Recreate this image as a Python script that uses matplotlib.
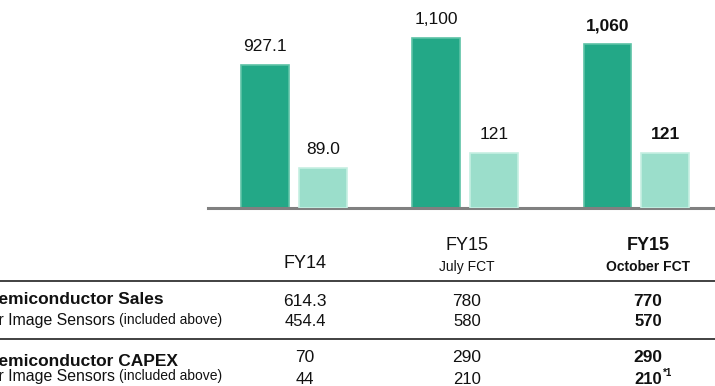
import matplotlib
matplotlib.use("Agg")
import matplotlib.pyplot as plt

plt.rcParams['font.family'] = ['Liberation Sans', 'DejaVu Sans']

# Chart data
periods = ["FY14", "FY15", "FY15"]
period_notes = ["", "July FCT", "October FCT"]
sales_total = [927.1, 1100, 1060]
capex_total = [89.0, 121, 121]
sales_label = ["927.1", "1,100", "1,060"]
capex_label = ["89.0", "121", "121"]

# Table rows
row_titles = ["Semiconductor Sales", "For Image Sensors", "Semiconductor CAPEX", "For Image Sensors"]
sales_semi = ["614.3", "780", "770"]
sales_sensor = ["454.4", "580", "570"]
capex_semi = ["70", "290", "290"]
capex_sensor = ["44", "210", "210"]

W, H = 715, 386
fig = plt.figure(figsize=(W / 100, H / 100), dpi=100)

def fx(px):
    return px / W

def fy(py):
    return 1 - py / H

dark = "#23a887"
dark_edge = "#5cc2a6"
light = "#9bdecb"
light_edge = "#c6efe2"

ax_left, ax_right, ax_base = 208, 713, 208
ax = fig.add_axes([fx(ax_left), fy(ax_base), fx(ax_right - ax_left), 1 - fy(ax_base)])
ax2 = ax.twinx()

ax.set_xlim(-0.502, 2.447)
ax.set_ylim(0, 1346)
ax2.set_ylim(0, 460)

x = list(range(len(sales_total)))
off, bw = 0.169, 0.28
ax.bar([i - off for i in x], sales_total, width=bw, color=dark, edgecolor=dark_edge, linewidth=1.2, zorder=2)
ax2.bar([i + off for i in x], capex_total, width=bw, color=light, edgecolor=light_edge, linewidth=1.2, zorder=2)

for i in x:
    bold = "bold" if i == 2 else "normal"
    ax.annotate(sales_label[i], (i - off, sales_total[i]), xytext=(0, 8), textcoords="offset points",
                ha="center", va="bottom", fontsize=12.5, fontweight=bold, color="#111111")
    ax2.annotate(capex_label[i], (i + off, capex_total[i]), xytext=(0, 8), textcoords="offset points",
                 ha="center", va="bottom", fontsize=12.5, fontweight=bold, color="#111111")

for a in (ax, ax2):
    for s in a.spines.values():
        s.set_visible(False)
    a.set_xticks([])
    a.set_yticks([])
    a.patch.set_visible(False)
ax.axhline(0, color="#808080", linewidth=2.2, zorder=3, clip_on=False)

# Header of the table
cols = [305, 467, 648]
fig.text(fx(cols[0]), fy(263), periods[0], ha="center", va="center", fontsize=13, color="#111111")
fig.text(fx(cols[1]), fy(245), periods[1], ha="center", va="center", fontsize=13, color="#111111")
fig.text(fx(cols[1]), fy(267), period_notes[1], ha="center", va="center", fontsize=10, color="#111111")
fig.text(fx(cols[2]), fy(245), periods[2], ha="center", va="center", fontsize=13, fontweight="bold", color="#111111")
fig.text(fx(cols[2]), fy(267), period_notes[2], ha="center", va="center", fontsize=10, fontweight="bold", color="#111111")

# Divider lines
for yy in (281, 339):
    fig.add_artist(plt.Line2D([0, 1], [fy(yy), fy(yy)], color="#333333", linewidth=1.3))

# Row titles
fig.text(fx(-13), fy(300), row_titles[0], ha="left", va="center", fontsize=12.5, fontweight="bold", color="#111111")
fig.text(fx(-13), fy(361), row_titles[2], ha="left", va="center", fontsize=12.5, fontweight="bold", color="#111111")
for yy in (321, 377):
    t = fig.text(fx(-20), fy(yy), row_titles[1] + " ", ha="left", va="center", fontsize=11.4, color="#111111")
    fig.canvas.draw()
    bb = t.get_window_extent()
    fig.text(bb.x1 / W, fy(yy) + 0.002, "(included above)", ha="left", va="center", fontsize=10, color="#111111")

# Table values
rows = [(301, sales_semi, 12.5), (322, sales_sensor, 12), (358, capex_semi, 12.5), (380, capex_sensor, 12)]
for yy, vals, fsz in rows:
    for j, v in enumerate(vals):
        w = "bold" if j == 2 else "normal"
        t = fig.text(fx(cols[j]), fy(yy), v, ha="center", va="center", fontsize=fsz, fontweight=w, color="#111111")
        if vals is capex_sensor and j == 2:
            fig.canvas.draw()
            bb = t.get_window_extent()
            fig.text(bb.x1 / W + 0.001, fy(yy) + 0.018, "*1", ha="left", va="center", fontsize=7,
                     fontweight="bold", color="#111111")

fig.savefig("out.png", dpi=100)
